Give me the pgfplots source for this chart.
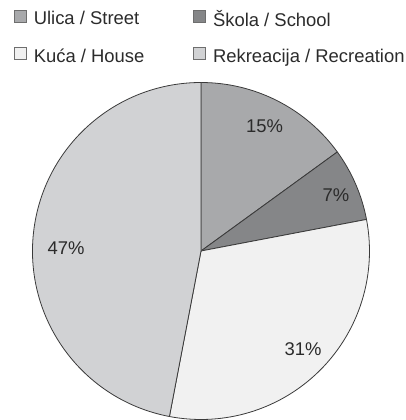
\documentclass[border=0pt]{standalone}
\usepackage{pgfplots}
\pgfplotsset{compat=1.18}
\usepackage{pgfplotstable}
\usepackage{fontspec}
\setmainfont{Liberation Sans}

\definecolor{cstreet}{HTML}{A8A9AB}
\definecolor{cschool}{HTML}{858688}
\definecolor{chouse}{HTML}{F1F1F1}
\definecolor{crec}{HTML}{D1D2D4}
\definecolor{cedge}{HTML}{3A3A3A}
\definecolor{cbox}{HTML}{6E6E6E}
\definecolor{ctext}{HTML}{2B2B2B}

% share of each place, in %; lr/la = label radius and angle shift
\pgfplotstableread{
value col     lr  la
15    cstreet 140 0
7     cschool 146 -1
31    chouse  142 1
47    crec    135 4
}\piedata

\newcommand\lblfont{\fontsize{18.5}{22}\selectfont}

\begin{document}
\begin{tikzpicture}
\begin{axis}[
  x=1bp, y=1bp,
  xmin=-201, xmax=205, ymin=-169, ymax=251,
  hide axis, scale only axis, clip=false,
  legend columns=2,
  legend cell align=left,
  legend image code/.code={\draw[#1, draw=cbox, line width=0.8pt] (0bp,-3.5bp) rectangle (12bp,8.5bp); \path (17bp,0);},
  legend style={draw=none, fill=none, at={(axis cs:-187,243)}, anchor=north west,
    font=\lblfont, text=ctext, inner sep=0pt, row sep=17bp,
    /tikz/every even column/.append style={column sep=47bp}},
]
\addlegendimage{fill=cstreet}\addlegendentry{Ulica / Street}
\addlegendimage{fill=cschool}\addlegendentry{Škola / School}
\addlegendimage{fill=chouse}\addlegendentry{Kuća / House}
\addlegendimage{fill=crec}\addlegendentry{Rekreacija / Recreation}

\def\st{90}
\pgfplotsforeachungrouped \i in {0,...,3}{
  \pgfplotstablegetelem{\i}{value}\of\piedata \let\v\pgfplotsretval
  \pgfplotstablegetelem{\i}{col}\of\piedata \let\c\pgfplotsretval
  \pgfplotstablegetelem{\i}{lr}\of\piedata \let\lr\pgfplotsretval
  \pgfplotstablegetelem{\i}{la}\of\piedata \let\la\pgfplotsretval
  \pgfmathsetmacro\en{\st-3.6*\v}
  \pgfmathsetmacro\md{(\st+\en)/2+\la}
  \edef\temp{\noexpand\filldraw[fill=\c, draw=cedge, line width=0.8pt, line join=round]
    (axis cs:0,0) -- (axis cs:{168.5*cos(\st)},{168.5*sin(\st)})
    arc[start angle=\st, end angle=\en, radius=168.5bp] -- cycle;
    \noexpand\node[font=\noexpand\lblfont, text=ctext]
    at (axis cs:{\lr*cos(\md)},{\lr*sin(\md)}) {\v\noexpand\%};}
  \temp
  \global\let\st\en
}
\end{axis}
\pgfresetboundingbox
\path (current axis.south west) rectangle (current axis.north east);
\end{tikzpicture}
\end{document}
